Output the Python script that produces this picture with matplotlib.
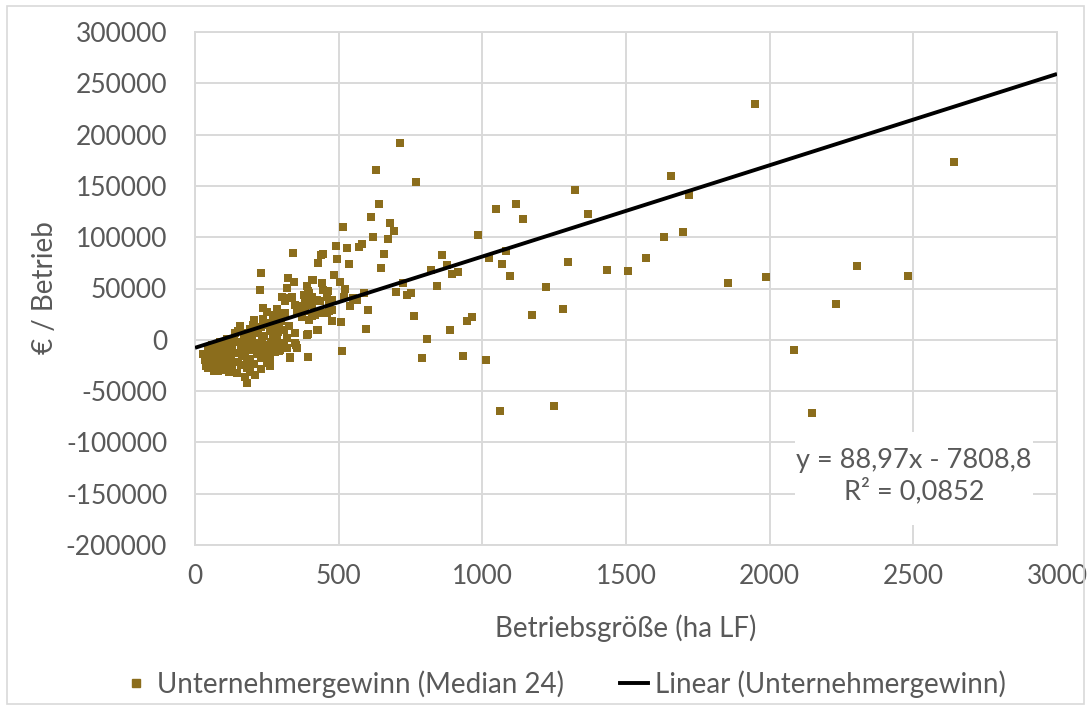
import matplotlib
matplotlib.use('Agg')
import matplotlib.pyplot as plt
from matplotlib.patches import Rectangle
from matplotlib.lines import Line2D
import numpy as np

plt.rcParams['font.family'] = ['Lato', 'DejaVu Sans']
plt.rcParams['axes.unicode_minus'] = False

# ---------------- data ----------------
# large profits / medium farms
x_a = [712, 631, 770, 640, 613, 680, 692, 514, 621, 673, 490, 528, 570, 580,
       438, 447, 342, 429, 495, 536, 658, 648, 485, 504, 408, 523, 230, 225]
y_a = [192000, 165400, 153700, 132600, 119900, 113700, 106200, 110100, 100400,
       98400, 91900, 89400, 90600, 93200, 83100, 83500, 84500, 74400, 78600,
       73800, 84100, 69500, 63400, 56800, 58500, 50000, 65300, 48400]
# farms 400-1300 ha
x_b = [986, 1047, 1118, 1142, 859, 1081, 1023, 1069, 1096, 1220, 820, 877, 893,
       914, 843, 724, 701, 737, 752, 587, 551, 563, 541, 601, 508, 478, 428,
       392, 595, 512, 394, 761, 806, 791, 886, 946, 964, 932, 1012, 1172, 1062,
       1248]
y_b = [101700, 127000, 131900, 117900, 82800, 86100, 79600, 73800, 62400,
       51400, 67900, 73100, 64000, 66000, 52600, 55200, 46800, 43200, 45500,
       45500, 41200, 39000, 33100, 28900, 16900, 18500, 9400, 5200, 10700,
       -11000, -16900, 23400, 700, -18200, 9100, 18200, 22700, -15600, -19500,
       24100, -69200, -64300]
# large farms
x_c = [1657, 1720, 1323, 1367, 1631, 1700, 1299, 1434, 1507, 1570, 1282, 1855,
       1988, 2083, 1948, 2640, 2305, 2482, 2231, 2146]
y_c = [159200, 140700, 146200, 122500, 100400, 104600, 76300, 68200, 67300,
       79900, 30200, 55600, 61100, -10400, 230000, 173200, 72100, 62400, 35100,
       -71500]
# cluster 230-530 ha
x_d = [320, 343, 325, 390, 410, 442, 394, 447, 464, 303, 314, 320, 338, 378,
       396, 407, 425, 459, 349, 367, 384, 407, 465, 477, 465, 235, 280, 297,
       314, 372, 396, 419, 448, 477, 256, 274, 291, 309, 326, 349, 390, 425,
       233, 251, 262, 280, 303, 320, 349, 355, 245, 251, 262, 332, 291, 297,
       354, 372, 383, 406, 423, 461, 520, 477, 389, 435]
y_d = [50400, 56800, 59800, 52000, 58000, 55200, 47100, 48700, 47100, 42200,
       37700, 40600, 42200, 43900, 45500, 42200, 39000, 42200, 34100, 32500,
       35800, 34100, 35800, 29200, 27600, 30800, 24400, 22700, 26000, 22700,
       19500, 24400, 26000, 17900, 16200, 13000, 14600, 9700, 13000, 6500,
       4900, 9700, 0, -6500, -9700, -4900, -3200, 1600, -3200, -8100, -16200,
       -22700, -19500, -17900, -11400, -9700, 28300, 30200, 27600, 23400,
       26000, 26600, 42200, 39000, 38000, 37500]
# dense core of small farms
x_e = [236, 204, 158, 201, 251, 140, 174, 220, 59, 82, 105, 36, 48, 71, 105,
       117, 181, 193, 181, 29, 38, 46, 64, 85, 93, 122, 255, 261, 296, 331,
       352, 354, 60, 75, 90, 100, 115, 125, 130, 140, 150, 155, 160, 165, 170,
       175, 185, 190, 195, 200, 205, 210, 215, 220, 225, 230, 240, 245, 250,
       260, 265, 270, 280, 285, 290, 310, 320, 95, 130, 145, 160, 80, 55, 70,
       120, 135, 180, 200, 110, 150, 190, 230, 270, 250, 285, 300, 210, 230,
       175, 120, 100, 45, 65, 88]
y_e = [20500, 19500, 13000, 14600, 14600, 6500, 6500, 6500, -8100, -9700,
       -8100, -19500, -24400, -26000, -29200, -30900, -27600, -30900, -42200,
       -13600, -26000, -27600, -22700, -17900, -21100, -26000, -22700, -25300,
       -9700, -16900, -4900, -8100, -5000, -12000, -15000, -3000, -10000,
       -18000, -6000, -13000, -22000, -2000, -9000, -16000, 2000, -12000,
       -6000, -19000, 3000, -10000, -24000, -3000, -14000, 8000, -8000,
       -18000, 4000, -5000, -13000, 9000, -2000, 5000, -12000, 3000, 8000,
       -5000, -8000, -25000, -28000, -32000, -25000, -30000, -15000, -18000,
       -20000, -1000, -20000, 0, 1000, 9000, 11000, 12000, 20000, 27000,
       30000, 18000, -34000, -28000, -36000, -14000, -12000, -8000, -30000,
       -2000]

trend_slope = 88.97
trend_intercept = -7808.8
trend_x_range = [0, 3000]

x_ticks = [0, 500, 1000, 1500, 2000, 2500, 3000]
x_tick_labels = ['0', '500', '1000', '1500', '2000', '2500', '3000']
y_ticks = [-200000, -150000, -100000, -50000, 0, 50000, 100000, 150000,
           200000, 250000, 300000]
y_tick_labels = ['-200000', '-150000', '-100000', '-50000', '0', '50000',
                 '100000', '150000', '200000', '250000', '300000']

series_label = 'Unternehmergewinn (Median 24)'
trend_label = 'Linear (Unternehmergewinn)'
x_title = 'Betriebsgröße (ha LF)'
y_title = '€ / Betrieb'
equation_text = 'y = 88,97x - 7808,8\nR² = 0,0852'

# ---------------- drawing ----------------
W, H = 1091, 711
TXT = '#595959'
GRID = '#D9D9D9'
MARK = '#8B6D1C'
FS_TICK = 19
FS = 20

fig = plt.figure(figsize=(W / 100, H / 100), dpi=100)
fig.patch.set_facecolor('white')

# chart-area border
fig.add_artist(Rectangle((7 / W, 1 - 704 / H), (1084 - 7) / W, (704 - 6) / H,
                         transform=fig.transFigure, fill=False,
                         edgecolor=GRID, lw=1.2))

ax = fig.add_axes([195 / W, 1 - 545 / H, (1057 - 195) / W, (545 - 32) / H])
ax.set_xlim(0, 3000)
ax.set_ylim(-200000, 300000)
ax.set_xticks(x_ticks)
ax.set_xticklabels(x_tick_labels)
ax.set_yticks(y_ticks)
ax.set_yticklabels(y_tick_labels)
ax.grid(True, color=GRID, lw=1.4)
ax.set_axisbelow(True)
for s in ax.spines.values():
    s.set_color(GRID)
    s.set_linewidth(1.4)
ax.tick_params(length=0, labelsize=FS_TICK, colors=TXT)
ax.tick_params(axis='y', pad=20)
ax.tick_params(axis='x', pad=14)

xs = np.array(x_a + x_b + x_c + x_d + x_e, dtype=float)
ys = np.array(y_a + y_b + y_c + y_d + y_e, dtype=float)
ax.scatter(xs, ys, marker='s', s=32, color=MARK, linewidths=0, zorder=3)

tx = np.array(trend_x_range, dtype=float)
ax.plot(tx, trend_slope * tx + trend_intercept, color='black', lw=2.8,
        zorder=4, solid_capstyle='butt')

# equation box
fig.add_artist(Rectangle((795 / W, 1 - 525 / H), (1033 - 795) / W, (525 - 432) / H,
                         transform=fig.transFigure, facecolor='white',
                         edgecolor='none', zorder=2.5))
fig.text(914 / W, 1 - 476 / H, equation_text, ha='center', va='center',
         fontsize=19.5, color=TXT, linespacing=1.2, zorder=5)

fig.text(626 / W, 1 - 628 / H, x_title, ha='center', va='center',
         fontsize=FS, color=TXT)
fig.text(45 / W, 1 - 288 / H, y_title, ha='center', va='center',
         fontsize=FS, color=TXT, rotation=90)

handles = [Line2D([], [], marker='s', color=MARK, ls='none', markersize=6),
           Line2D([], [], color='black', lw=2.8)]
fig.legend(handles, [series_label, trend_label], loc='center',
           bbox_to_anchor=(564 / W, 1 - 684 / H), ncol=2, frameon=False,
           fontsize=FS, labelcolor=TXT, handlelength=1.0, handletextpad=0.25,
           columnspacing=2.0)

fig.savefig('out.png', dpi=100, facecolor='white')
